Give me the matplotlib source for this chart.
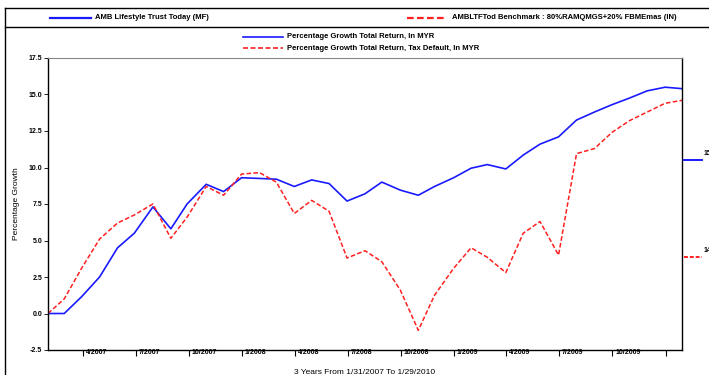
import matplotlib
matplotlib.use('Agg')
import matplotlib.pyplot as plt
from matplotlib.lines import Line2D
from matplotlib.transforms import ScaledTranslation
import pandas as pd

# month-end dates, 1/31/2007 .. 1/29/2010
dates = pd.date_range('2007-01-31', '2010-01-29', freq='BME')

fund = [0.0, 0.0, 1.15, 2.5, 4.5, 5.5, 7.3, 5.8, 7.5, 8.85, 8.35, 9.3,
        9.25, 9.2, 8.7, 9.15, 8.9, 7.7, 8.2, 9.0, 8.45, 8.1, 8.7, 9.3,
        9.95, 10.2, 9.9, 10.85, 11.6, 12.1, 13.25, 13.8, 14.3, 14.75, 15.25, 15.5,
        15.4]
bench = [0.0, 1.0, 3.1, 5.1, 6.2, 6.75, 7.5, 5.15, 6.6, 8.7, 8.1, 9.55,
         9.65, 9.0, 6.85, 7.75, 7.0, 3.8, 4.3, 3.55, 1.6, -1.15, 1.25, 3.1,
         4.5, 3.85, 2.8, 5.5, 6.3, 4.0, 10.95, 11.3, 12.4, 13.2, 13.8, 14.4,
         14.6]

tick_dates = pd.date_range('2007-04-01', '2010-01-01', freq='QS-JAN')
tick_labels = [f"{d.month}/{d.year}" for d in tick_dates]
tick_labels[-1] = ''
y_ticks = [-2.5, 0.0, 2.5, 5.0, 7.5, 10.0, 12.5, 15.0, 17.5]

plt.rcParams['font.family'] = ['Liberation Sans Narrow', 'Liberation Sans', 'DejaVu Sans']
plt.rcParams['font.weight'] = 'bold'

W, H = 709, 375
fig = plt.figure(figsize=(W / 100, H / 100), dpi=100)
ax = fig.add_axes([48 / W, 1 - 350 / H, (682 - 48) / W, (350 - 58) / H])

BLUE = '#1a1aff'
RED = '#ff2020'
ax.plot(dates, fund, color=BLUE, lw=1.2)
ax.plot(dates, bench, color=RED, lw=1.1, linestyle=(0, (3, 1.5)))

ax.set_xlim(dates[0], dates[-1])
ax.set_ylim(-2.5, 17.5)
ax.set_yticks(y_ticks)
ax.set_yticklabels([f"{v:.1f}" for v in y_ticks], fontsize=5)
ax.set_xticks(tick_dates)
ax.set_xticklabels(tick_labels, fontsize=5)
ax.tick_params(axis='y', length=3, width=0.6, pad=1)
ax.tick_params(axis='x', length=4, width=0.8, pad=-4.5)
offset = ScaledTranslation(2 / 72, 0, fig.dpi_scale_trans)
for lab in ax.get_xticklabels():
    lab.set_ha('left')
    lab.set_transform(lab.get_transform() + offset)

for s in ['left', 'bottom', 'right']:
    ax.spines[s].set_linewidth(1.0)
ax.spines['top'].set_color('#888888')
ax.spines['top'].set_linewidth(0.8)

ax.set_ylabel('Percentage Growth', fontsize=6, labelpad=6)
ax.set_xlabel('3 Years From 1/31/2007 To 1/29/2010', fontsize=6, labelpad=9)


def fx(px):
    return px / W


def fy(py):
    return 1 - py / H


# outer frame and top legend bar
fig.add_artist(Line2D([fx(5), 1], [fy(8), fy(8)], color='black', lw=1.0))
fig.add_artist(Line2D([fx(5), 1], [fy(27), fy(27)], color='black', lw=1.0))
fig.add_artist(Line2D([fx(5), fx(5)], [fy(8), 0], color='black', lw=1.0))

fig.add_artist(Line2D([fx(50), fx(91)], [fy(17.5)] * 2, color=BLUE, lw=1.6))
fig.text(fx(95), fy(17.5), 'AMB Lifestyle Trust Today (MF)', fontsize=5.5, va='center')
fig.add_artist(Line2D([fx(407), fx(447)], [fy(17.5)] * 2, color=RED, lw=1.6,
                      linestyle=(0, (3, 1.5))))
fig.text(fx(452), fy(17.5), 'AMBLTFTod Benchmark : 80%RAMQMGS+20% FBMEmas (IN)',
         fontsize=5.5, va='center')

# series legend
fig.add_artist(Line2D([fx(243), fx(283)], [fy(37)] * 2, color=BLUE, lw=1.2))
fig.text(fx(287), fy(37), 'Percentage Growth Total Return, In MYR', fontsize=5.5, va='center')
fig.add_artist(Line2D([fx(243), fx(283)], [fy(48)] * 2, color=RED, lw=1.2,
                      linestyle=(0, (3, 1.5))))
fig.text(fx(287), fy(48), 'Percentage Growth Total Return, Tax Default, In MYR',
         fontsize=5.5, va='center')

# end value markers on the right (cut by the figure edge, as in the source)
fig.add_artist(Line2D([fx(684), fx(702)], [fy(160)] * 2, color=BLUE, lw=1.4))
fig.text(fx(704), fy(157), f"{fund[-1]:.2f}", fontsize=5, va='bottom')
fig.add_artist(Line2D([fx(684), fx(702)], [fy(257)] * 2, color=RED, lw=1.4,
                      linestyle=(0, (2, 1))))
fig.text(fx(704), fy(254), f"{bench[-1]:.2f}", fontsize=5, va='bottom')

fig.savefig('out.png', dpi=100)
